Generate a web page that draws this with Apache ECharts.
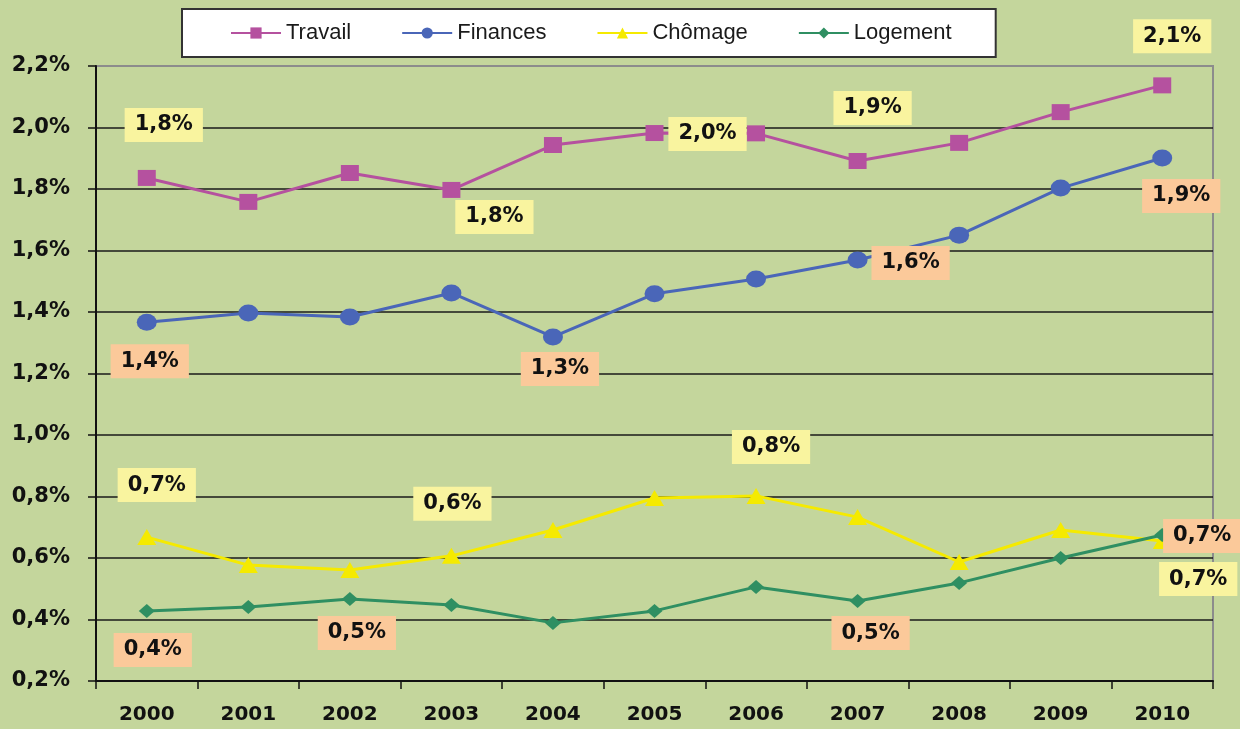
<!DOCTYPE html>
<html>
<head>
<meta charset="utf-8">
<script src="https://cdn.jsdelivr.net/npm/echarts@6/dist/echarts.min.js"></script>
<style>
html,body{margin:0;padding:0;background:#c4d69c;}
#c{width:1240px;height:729px;}
</style>
</head>
<body>
<div id="c"></div>
<script>
// ---- data ----
const years = ['2000','2001','2002','2003','2004','2005','2006','2007','2008','2009','2010'];
const travail  = [1.836, 1.758, 1.852, 1.797, 1.943, 1.982, 1.981, 1.891, 1.950, 2.050, 2.137];
const finances = [1.367, 1.397, 1.384, 1.462, 1.319, 1.459, 1.507, 1.569, 1.650, 1.803, 1.901];
const chomage  = [0.668, 0.577, 0.561, 0.607, 0.691, 0.795, 0.802, 0.733, 0.587, 0.691, 0.655];
const logement = [0.428, 0.441, 0.467, 0.447, 0.389, 0.428, 0.506, 0.460, 0.519, 0.600, 0.675];
const seriesNames = ['Travail', 'Finances', 'Chômage', 'Logement'];

// ---- label placement (style config, index -> offset) ----
const travailLabels  = [[0,[17,-53]],[3,[43,27]],[5,[53,1]],[7,[15,-53]],[10,[10,-49]]];
const financesLabels = [[0,[3,39]],[4,[7,32]],[7,[53,3]],[10,[19,38]]];
const chomageLabels  = [[0,[10,-52]],[3,[1,-52]],[6,[15,-49]],[10,[36,38]]];
const logementLabels = [[0,[6,39]],[2,[7,34]],[7,[13,32]],[10,[40,1]]];

const YELLOW_BOX = '#f9f49f';
const PEACH_BOX = '#fbc99a';

function fmt(v){ return v.toFixed(1).replace('.', ',') + '%'; }

function build(values, labels, bg){
  const map = {};
  labels.forEach(function(l){ map[l[0]] = l[1]; });
  return values.map(function(v, i){
    if (map[i]) {
      return {
        value: v,
        label: {
          show: true,
          position: 'inside',
          offset: map[i],
          formatter: function(p){ return fmt(p.value); },
          fontFamily: 'DejaVu Sans',
          fontWeight: 'bold',
          fontSize: 21,
          lineHeight: 22,
          color: '#111',
          backgroundColor: bg,
          padding: [6, 10, 6, 10]
        }
      };
    }
    return v;
  });
}

const chart = echarts.init(document.getElementById('c'), null, {renderer: 'canvas'});
chart.setOption({
  animation: false,
  backgroundColor: '#c4d69c',
  legend: {
    data: seriesNames,
    left: 182,
    top: 9,
    orient: 'horizontal',
    itemWidth: 50,
    itemHeight: 14,
    itemGap: 50,
    padding: [13, 44, 13, 48],
    backgroundColor: '#ffffff',
    borderColor: '#333333',
    borderWidth: 2,
    textStyle: { fontFamily: 'Liberation Sans', fontSize: 22, color: '#1a1a1a' }
  },
  grid: {
    left: 96, right: 27, top: 66, bottom: 48,
    show: true,
    borderColor: '#8c8c8c',
    borderWidth: 2,
    backgroundColor: 'transparent'
  },
  xAxis: {
    type: 'category',
    data: years,
    boundaryGap: true,
    axisLine: { lineStyle: { color: '#111', width: 2 } },
    axisTick: { show: true, length: 8, lineStyle: { color: '#111', width: 1.5 } },
    axisLabel: { fontFamily: 'DejaVu Sans', fontWeight: 'bold', fontSize: 20, color: '#111', margin: 24 },
    splitLine: { show: false }
  },
  yAxis: {
    type: 'value',
    min: 0.2, max: 2.2, interval: 0.2,
    axisLine: { show: true, lineStyle: { color: '#111', width: 2 } },
    axisTick: { show: true, length: 8, lineStyle: { color: '#111', width: 1.5 } },
    axisLabel: {
      fontFamily: 'DejaVu Sans', fontWeight: 'bold', fontSize: 21, color: '#111', margin: 26,
      padding: [6, 0, 0, 0],
      formatter: function(v){ return fmt(v); }
    },
    splitLine: { show: true, showMaxLine: false, lineStyle: { color: '#1a1a1a', width: 1.5 } }
  },
  series: [
    {
      name: seriesNames[0], type: 'line', data: build(travail, travailLabels, YELLOW_BOX),
      symbol: 'rect', symbolSize: [18, 16], showAllSymbol: true,
      lineStyle: { width: 3, color: '#b5519f' }, itemStyle: { color: '#b5519f' }, z: 4
    },
    {
      name: seriesNames[1], type: 'line', data: build(finances, financesLabels, PEACH_BOX),
      symbol: 'circle', symbolSize: [20, 17], showAllSymbol: true,
      lineStyle: { width: 3, color: '#4a66b8' }, itemStyle: { color: '#4a66b8' }, z: 3
    },
    {
      name: seriesNames[2], type: 'line', data: build(chomage, chomageLabels, YELLOW_BOX),
      symbol: 'triangle', symbolSize: [19, 16], showAllSymbol: true,
      lineStyle: { width: 3, color: '#f5ea00' }, itemStyle: { color: '#f5ea00' }, z: 2
    },
    {
      name: seriesNames[3], type: 'line', data: build(logement, logementLabels, PEACH_BOX),
      symbol: 'diamond', symbolSize: [16, 14], showAllSymbol: true,
      lineStyle: { width: 3, color: '#2f8f62' }, itemStyle: { color: '#2f8f62' }, z: 3
    }
  ]
});
</script>
</body>
</html>
